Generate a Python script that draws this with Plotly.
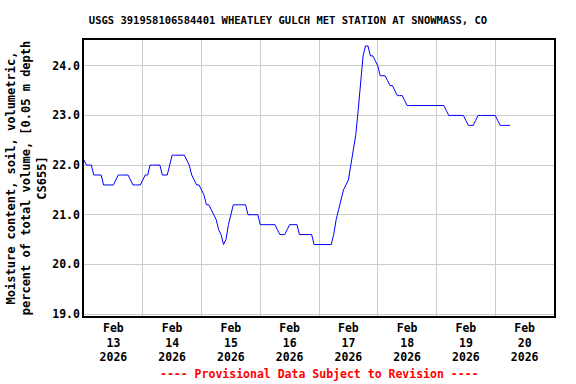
import pandas as pd
import plotly.graph_objects as go

# Hourly soil moisture readings starting 2026-02-13 00:00
start_time = "2026-02-13 00:00"
moisture = [
    22.1, 22.0, 22.0, 22.0, 21.8, 21.8, 21.8, 21.8, 21.6, 21.6, 21.6, 21.6,
    21.6, 21.7, 21.8, 21.8, 21.8, 21.8, 21.8, 21.7, 21.6, 21.6, 21.6, 21.6,
    21.7, 21.8, 21.8, 22.0, 22.0, 22.0, 22.0, 22.0, 21.8, 21.8, 21.8, 22.0,
    22.2, 22.2, 22.2, 22.2, 22.2, 22.2, 22.1, 22.0, 21.8, 21.7, 21.6, 21.6,
    21.5, 21.4, 21.2, 21.2, 21.1, 21.0, 20.9, 20.7, 20.6, 20.4, 20.5, 20.8,
    21.0, 21.2, 21.2, 21.2, 21.2, 21.2, 21.2, 21.0, 21.0, 21.0, 21.0, 21.0,
    20.8, 20.8, 20.8, 20.8, 20.8, 20.8, 20.8, 20.7, 20.6, 20.6, 20.6, 20.7,
    20.8, 20.8, 20.8, 20.8, 20.6, 20.6, 20.6, 20.6, 20.6, 20.6, 20.4, 20.4,
    20.4, 20.4, 20.4, 20.4, 20.4, 20.4, 20.6, 20.9, 21.1, 21.3, 21.5, 21.6,
    21.7, 22.0, 22.3, 22.6, 23.1, 23.6, 24.2, 24.4, 24.4, 24.2, 24.2, 24.1,
    24.0, 23.8, 23.8, 23.8, 23.7, 23.6, 23.6, 23.5, 23.4, 23.4, 23.4, 23.3,
    23.2, 23.2, 23.2, 23.2, 23.2, 23.2, 23.2, 23.2, 23.2, 23.2, 23.2, 23.2,
    23.2, 23.2, 23.2, 23.2, 23.1, 23.0, 23.0, 23.0, 23.0, 23.0, 23.0, 23.0,
    22.9, 22.8, 22.8, 22.8, 22.9, 23.0, 23.0, 23.0, 23.0, 23.0, 23.0, 23.0,
    23.0, 22.9, 22.8, 22.8, 22.8, 22.8, 22.8,
]
times = pd.date_range(start_time, periods=len(moisture), freq="h")

x_range = ["2026-02-13 00:00", "2026-02-21 00:00"]
y_range = [18.96, 24.52]
y_ticks = [19.0, 20.0, 21.0, 22.0, 23.0, 24.0]

title_text = "USGS 391958106584401 WHEATLEY GULCH MET STATION AT SNOWMASS, CO"
y_title = ("Moisture content, soil, volumetric,<br>"
           "percent of total volume, [0.05 m depth<br>CS655]")
footer = "---- Provisional Data Subject to Revision ----"

FONT = "DejaVu Sans Mono"

fig = go.Figure()
fig.add_trace(go.Scatter(
    x=times, y=moisture, mode="lines",
    line=dict(color="#0000ff", width=1),
    hoverinfo="x+y", showlegend=False,
))

fig.update_layout(
    width=576, height=384,
    margin=dict(l=84, r=22, t=40, b=68),
    paper_bgcolor="white", plot_bgcolor="white",
    font=dict(family=FONT, size=11.5, color="black", weight="bold"),
    title=dict(text=title_text, x=0.5, xref="container", xanchor="center",
               y=1 - 20 / 384, yref="container", yanchor="middle",
               font=dict(family=FONT, size=10.5, color="black", weight="bold")),
    xaxis=dict(
        type="date", range=x_range,
        tick0="2026-02-13", dtick=86400000,
        ticklabelmode="period", tickformat="%b<br>%d<br>%Y",
        showgrid=True, gridcolor="#cccccc", gridwidth=1,
        showline=True, linecolor="black", linewidth=1.5, mirror=True,
        ticks="", zeroline=False,
        tickfont=dict(family=FONT, size=11.5, color="black", weight="bold"),
    ),
    yaxis=dict(
        range=y_range, tickvals=y_ticks, tickformat=".1f",
        showgrid=True, gridcolor="#cccccc", gridwidth=1,
        showline=True, linecolor="black", linewidth=1.5, mirror=True,
        ticks="", zeroline=False,
        tickfont=dict(family=FONT, size=11.5, color="black", weight="bold"),
        title=dict(text=y_title, standoff=3,
                   font=dict(family=FONT, size=12, color="black", weight="bold")),
        automargin=False,
    ),
    annotations=[dict(
        text=footer, xref="paper", yref="paper", x=0.5, y=-(374 - 316) / 276,
        xanchor="center", yanchor="middle", showarrow=False,
        font=dict(family=FONT, size=11.5, color="red", weight="bold"),
    )],
)

fig.write_html(
    "out.html",
    config={"displayModeBar": False},
    post_script="document.body.style.margin='0';document.body.style.overflow='hidden';",
)
